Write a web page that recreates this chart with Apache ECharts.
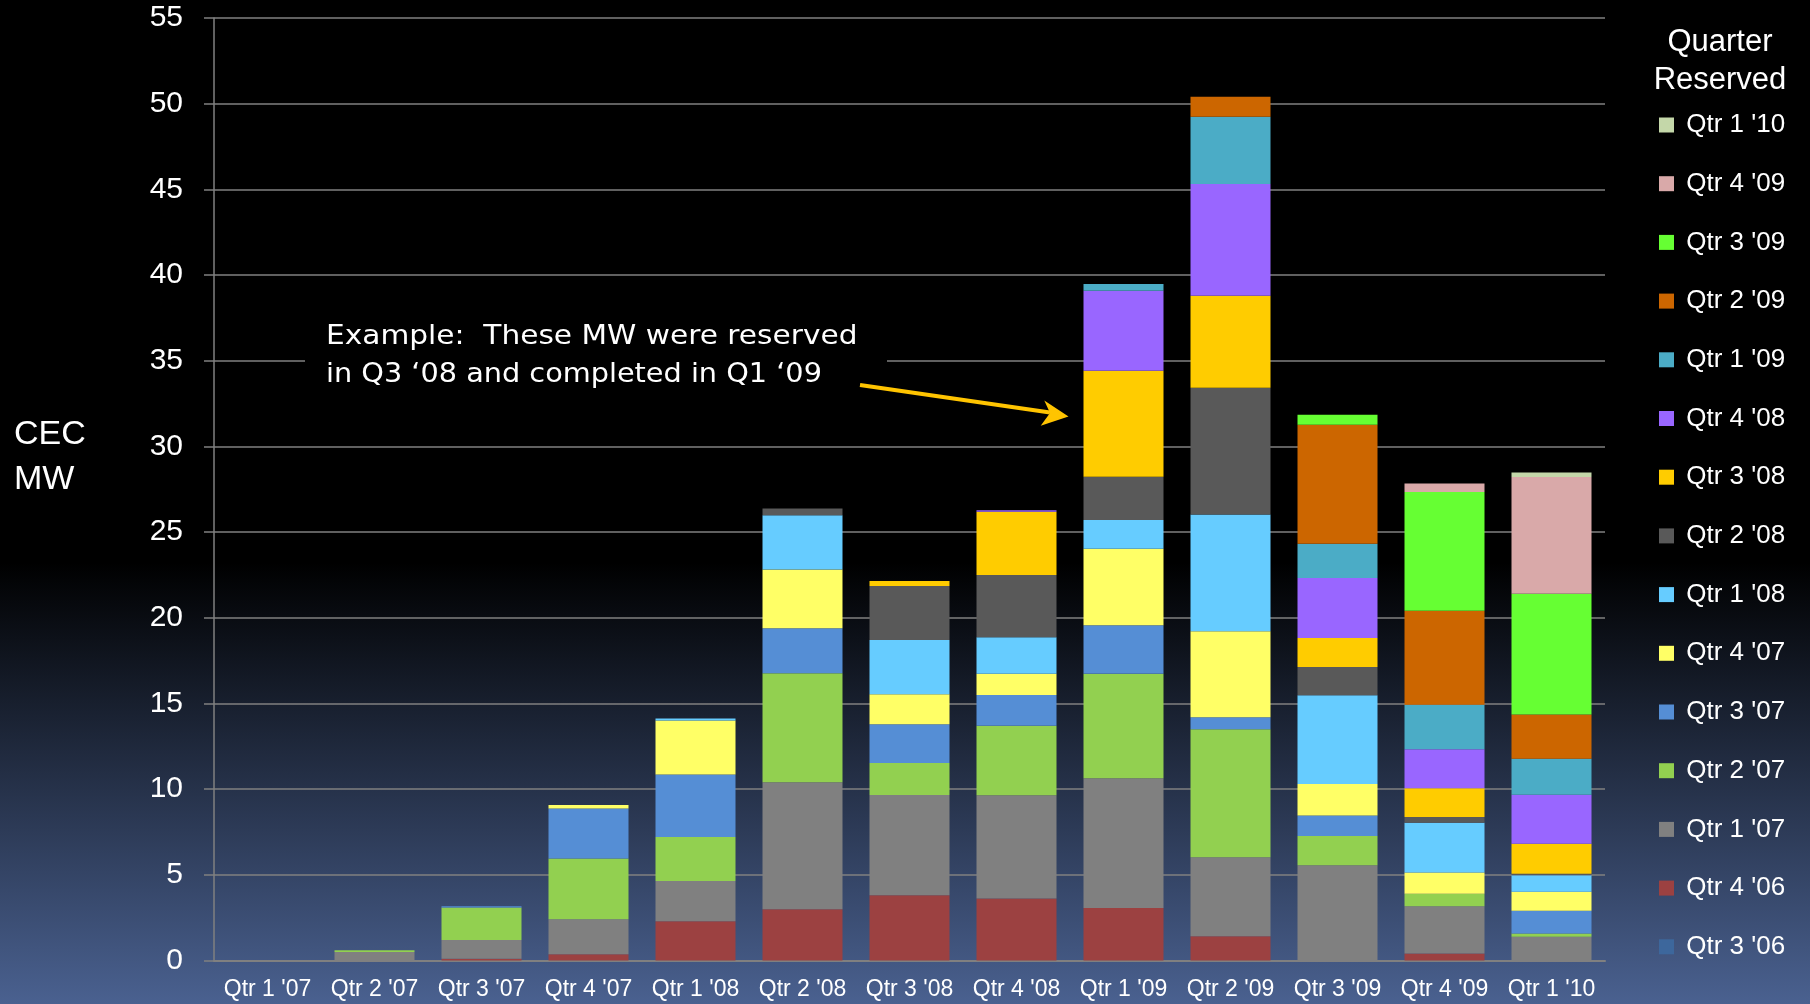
<!DOCTYPE html>
<html>
<head>
<meta charset="utf-8">
<title>CEC MW by Quarter Reserved</title>
<script src="https://cdn.jsdelivr.net/npm/echarts@6/dist/echarts.min.js"></script>
<style>
    html, body { margin: 0; padding: 0; width: 100%; height: 100%; }
    body { background: linear-gradient(to bottom, #000 0%, #000 56%, #4a6190 100%); }
    #cec_echarts { width: 1810px; height: 1004px; }
</style>
</head>
<body>
<div id="cec_echarts"></div>
<script>
// quarter completed (x axis)
const categories = ["Qtr 1 '07", "Qtr 2 '07", "Qtr 3 '07", "Qtr 4 '07", "Qtr 1 '08", "Qtr 2 '08", "Qtr 3 '08",
    "Qtr 4 '08", "Qtr 1 '09", "Qtr 2 '09", "Qtr 3 '09", "Qtr 4 '09", "Qtr 1 '10"];

// quarter reserved, bottom of stack first
const quarterNames = ["Qtr 3 '06", "Qtr 4 '06", "Qtr 1 '07", "Qtr 2 '07", "Qtr 3 '07", "Qtr 4 '07", "Qtr 1 '08",
    "Qtr 2 '08", "Qtr 3 '08", "Qtr 4 '08", "Qtr 1 '09", "Qtr 2 '09", "Qtr 3 '09", "Qtr 4 '09", "Qtr 1 '10"];

// MW per completed quarter
const q3_06 = [0, 0, 0, 0, 0, 0, 0, 0, 0, 0, 0, 0, 0];
const q4_06 = [0, 0, 0.1, 0.37, 2.29, 2.99, 3.81, 3.62, 3.07, 1.42, 0, 0.41, 0];
const q1_07 = [0, 0.5, 1.1, 2.04, 2.35, 7.41, 5.85, 6.03, 7.57, 4.61, 5.56, 2.76, 1.38];
const q2_07 = [0, 0.1, 1.9, 3.54, 2.57, 6.36, 1.87, 4.05, 6.09, 7.47, 1.71, 0.72, 0.2];
const q3_07 = [0, 0, 0.07, 2.92, 3.64, 2.63, 2.26, 1.79, 2.83, 0.7, 1.19, 0, 1.32];
const q4_07 = [0, 0, 0, 0.2, 3.15, 3.43, 1.75, 1.24, 4.47, 5.02, 1.84, 1.25, 1.11];
const q1_08 = [0, 0, 0, 0, 0.12, 3.17, 3.17, 2.14, 1.67, 6.81, 5.18, 2.9, 0.97];
const q2_08 = [0, 0, 0, 0, 0, 0.39, 3.15, 3.62, 2.53, 7.39, 1.65, 0.33, 0.08];
const q3_08 = [0, 0, 0, 0, 0, 0, 0.29, 3.69, 6.19, 5.37, 1.69, 1.68, 1.75];
const q4_08 = [0, 0, 0, 0, 0, 0, 0, 0.1, 4.67, 6.52, 3.5, 2.28, 2.86];
const q1_09 = [0, 0, 0, 0, 0, 0, 0, 0, 0.39, 3.93, 2.0, 2.59, 2.1];
const q2_09 = [0, 0, 0, 0, 0, 0, 0, 0, 0, 1.17, 6.95, 5.49, 2.59];
const q3_09 = [0, 0, 0, 0, 0, 0, 0, 0, 0, 0, 0.58, 6.93, 7.04];
const q4_09 = [0, 0, 0, 0, 0, 0, 0, 0, 0, 0, 0, 0.49, 6.81];
const q1_10 = [0, 0, 0, 0, 0, 0, 0, 0, 0, 0, 0, 0, 0.27];

const seriesValues = [q3_06, q4_06, q1_07, q2_07, q3_07, q4_07, q1_08, q2_08, q3_08, q4_08, q1_09, q2_09, q3_09, q4_09, q1_10];

const quarterColors = ['#3d679c', '#9c4141', '#808080', '#92d050', '#558ed5', '#ffff66', '#66ccff',
    '#595959', '#ffcc00', '#9966ff', '#4bacc6', '#cc6600', '#66ff33', '#d9a9a9', '#c4d7a9'];

const fontName = "'Liberation Sans', Arial, sans-serif";
const gridColor = '#808080';

const cec_chart = echarts.init(document.getElementById('cec_echarts'));

const series = quarterNames.map(function (name, i) {
    return {
        name: name,
        type: 'bar',
        stack: 'mw',
        barWidth: 80,
        data: seriesValues[i],
        itemStyle: {color: quarterColors[i]},
        emphasis: {disabled: true}
    };
});

const t_option = {
    backgroundColor: 'transparent',
    animation: false,
    grid: {
        left: 214,
        right: 205,
        top: 18,
        bottom: 43.5
    },
    legend: {
        data: quarterNames.slice().reverse(),
        orient: 'vertical',
        left: 1659,
        top: 112,
        padding: 0,
        icon: 'rect',
        itemWidth: 15,
        itemHeight: 15,
        itemGap: 32.7,
        selectedMode: false,
        formatter: function (name) {
            return ' ' + name;
        },
        textStyle: {color: '#fff', fontSize: 26, lineHeight: 26, fontFamily: fontName}
    },
    xAxis: {
        type: 'category',
        data: categories,
        axisLine: {lineStyle: {color: gridColor, width: 2}},
        axisTick: {show: false},
        axisLabel: {color: '#fff', fontSize: 23, margin: 18, interval: 0, fontFamily: fontName}
    },
    yAxis: {
        type: 'value',
        min: 0,
        max: 55,
        interval: 5,
        axisLine: {show: true, lineStyle: {color: gridColor, width: 1.5}},
        axisTick: {show: true, length: 10, lineStyle: {color: gridColor, width: 1.5}},
        axisLabel: {color: '#fff', fontSize: 30, margin: 31, fontFamily: fontName},
        splitLine: {lineStyle: {color: gridColor, width: 1.5}}
    },
    graphic: [
        // y axis title
        {type: 'text', left: 14, top: 418, z: 10, style: {text: 'CEC', fill: '#fff', font: '34px ' + fontName}},
        {type: 'text', left: 14, top: 463, z: 10, style: {text: 'MW', fill: '#fff', font: '34px ' + fontName}},
        // legend title
        {type: 'text', x: 1720, y: 42, z: 10, style: {text: 'Quarter', fill: '#fff', font: '31px ' + fontName, align: 'center', verticalAlign: 'middle'}},
        {type: 'text', x: 1720, y: 80, z: 10, style: {text: 'Reserved', fill: '#fff', font: '31px ' + fontName, align: 'center', verticalAlign: 'middle'}},
        // annotation box over the 35 grid line
        {type: 'rect', z: 10, shape: {x: 305, y: 308, width: 582, height: 92}, style: {fill: '#000'}},
        {type: 'text', x: 326, y: 337, scaleX: 1.097, z: 11,
            style: {text: 'Example:  These MW were reserved', fill: '#fff', font: "27px 'DejaVu Sans', sans-serif", verticalAlign: 'middle'}},
        {type: 'text', x: 326, y: 375, scaleX: 1.064, z: 11,
            style: {text: 'in Q3 \u201808 and completed in Q1 \u201809', fill: '#fff', font: "27px 'DejaVu Sans', sans-serif", verticalAlign: 'middle'}},
        // arrow to the Q3 '08 block of Qtr 1 '09
        {type: 'line', z: 12, shape: {x1: 860, y1: 385, x2: 1050, y2: 412.5}, style: {stroke: '#ffc400', lineWidth: 4}},
        {type: 'polygon', z: 12, shape: {points: [[1068.5, 416.5], [1044.3, 400.5], [1050, 413], [1040.7, 425.7]]}, style: {fill: '#ffc400'}}
    ],
    series: series
};

cec_chart.setOption(t_option);
window.onresize = function () {
    cec_chart.resize();
};
</script>
</body>
</html>
